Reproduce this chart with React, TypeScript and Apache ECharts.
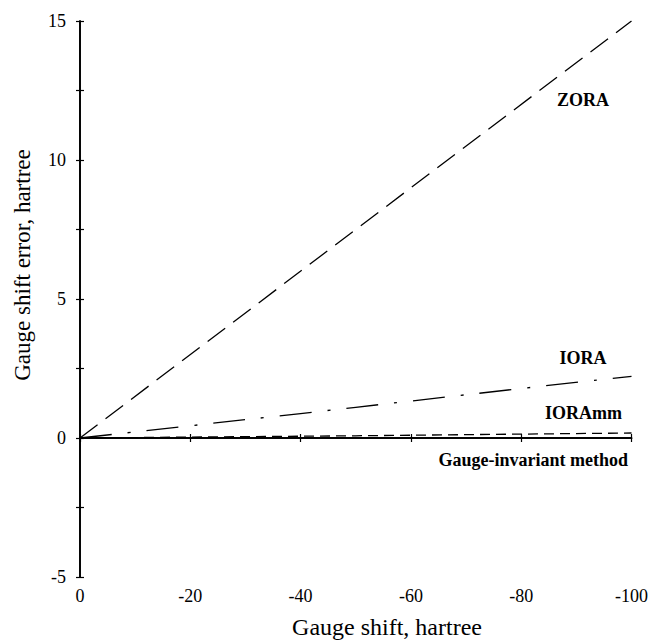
import React, { useEffect, useRef } from "react";
import * as echarts from "echarts";

const zoraX = [0, -100];
const zoraY = [0, 15];
const ioraX = [0, -20, -40, -60, -80, -100];
const ioraY = [0, 0.44, 0.88, 1.33, 1.78, 2.22];
const ioramX = [0, -50, -100];
const ioramY = [0, 0.08, 0.18];
const giX = [0, -100];
const giY = [0, 0];
const yTickLabels = [-5, 0, 5, 10, 15];

const FONT = "'Liberation Serif', 'DejaVu Serif', serif";

const pairs = (xs: number[], ys: number[]) => xs.map((x, i) => [x, ys[i]]);

export default function App() {
  const ref = useRef<HTMLDivElement>(null);
  useEffect(() => {
    if (!ref.current) return;
    const chart = echarts.init(ref.current, undefined, { renderer: "svg" });
    const axisLine = { show: true, lineStyle: { color: "#000", width: 1.7 } };
    const tick = { show: true, inside: true, length: 4, lineStyle: { color: "#000", width: 1.2 } };
    const labelFont = { color: "#000", fontFamily: FONT, fontSize: 18 };
    const bold = `bold 18px ${FONT}`;
    chart.setOption({
      animation: false,
      backgroundColor: "#fff",
      textStyle: { fontFamily: FONT },
      grid: { left: 80, top: 21, right: 17, bottom: 66, containLabel: false },
      xAxis: [
        {
          type: "value",
          inverse: true,
          min: -100,
          max: 0,
          interval: 20,
          axisLine,
          axisTick: tick,
          splitLine: { show: false },
          axisLabel: { ...labelFont, margin: 10 },
        },
        {
          type: "value",
          position: "top",
          inverse: true,
          min: -100,
          max: 0,
          interval: 20,
          axisLine,
          axisTick: tick,
          splitLine: { show: false },
          axisLabel: { show: false },
        },
      ],
      yAxis: [
        {
          type: "value",
          min: -5,
          max: 15,
          interval: 2.5,
          axisLine,
          axisTick: tick,
          splitLine: { show: false },
          axisLabel: {
            ...labelFont,
            margin: 14,
            formatter: (v: number) => (yTickLabels.includes(v) ? String(v) : ""),
          },
        },
        {
          type: "value",
          position: "right",
          min: -5,
          max: 15,
          interval: 2.5,
          axisLine,
          axisTick: tick,
          splitLine: { show: false },
          axisLabel: { show: false },
        },
      ],
      series: [
        {
          name: "ZORA",
          type: "line",
          data: pairs(zoraX, zoraY),
          showSymbol: false,
          lineStyle: { color: "#000", width: 1.3, type: [22, 10] },
        },
        {
          name: "IORA",
          type: "line",
          data: pairs(ioraX, ioraY),
          showSymbol: false,
          smooth: true,
          lineStyle: { color: "#000", width: 1.3, type: [32, 16, 3, 16] },
        },
        {
          name: "IORAmm",
          type: "line",
          data: pairs(ioramX, ioramY),
          showSymbol: false,
          lineStyle: { color: "#000", width: 1.3, type: [10, 6] },
        },
        {
          name: "Gauge-invariant method",
          type: "line",
          data: pairs(giX, giY),
          showSymbol: false,
          lineStyle: { color: "#000", width: 1.5, type: "solid" },
        },
      ],
      graphic: [
        { type: "text", x: 583, y: 100, style: { text: "ZORA", fill: "#000", font: bold, textAlign: "center", textVerticalAlign: "middle" } },
        { type: "text", x: 583, y: 358, style: { text: "IORA", fill: "#000", font: bold, textAlign: "center", textVerticalAlign: "middle" } },
        { type: "text", x: 622, y: 413, style: { text: "IORAmm", fill: "#000", font: bold, textAlign: "right", textVerticalAlign: "middle" } },
        { type: "text", x: 628, y: 460, style: { text: "Gauge-invariant method", fill: "#000", font: bold, textAlign: "right", textVerticalAlign: "middle" } },
        { type: "text", x: 387, y: 627, style: { text: "Gauge shift, hartree", fill: "#000", font: `24px ${FONT}`, textAlign: "center", textVerticalAlign: "middle" } },
        { type: "text", x: 22, y: 265, rotation: Math.PI / 2, style: { text: "Gauge shift error, hartree", fill: "#000", font: `23px ${FONT}`, textAlign: "center", textVerticalAlign: "middle" } },
      ],
    });
    return () => chart.dispose();
  }, []);
  return <div ref={ref} style={{ width: 651, height: 643, position: "absolute", left: 0, top: 0 }} />;
}
